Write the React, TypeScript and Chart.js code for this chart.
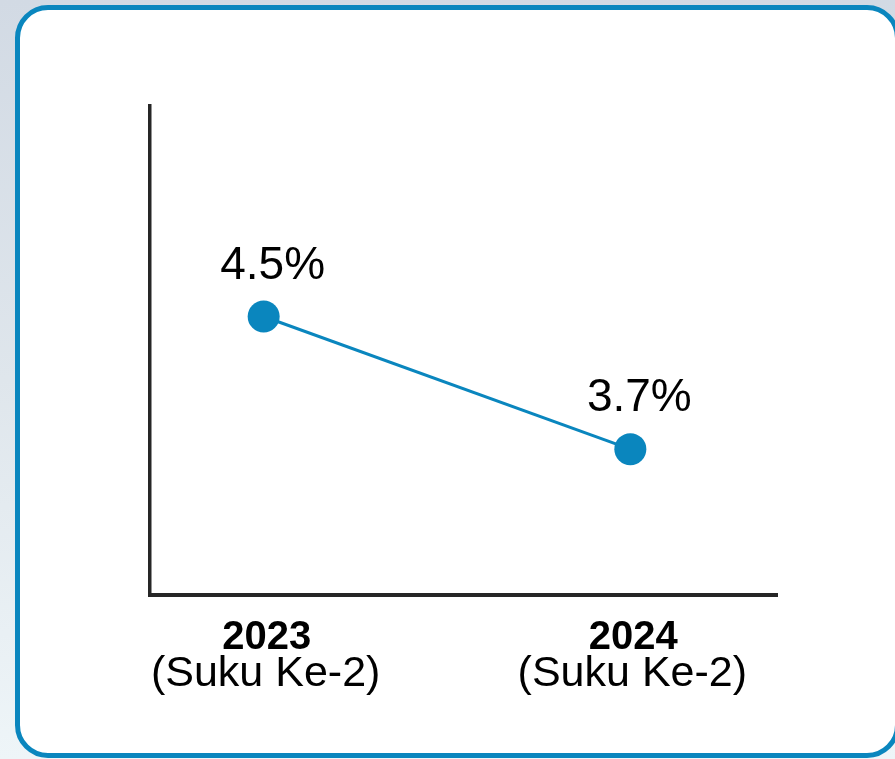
import React, { useEffect, useRef } from "react";
import { Chart, registerables } from "chart.js";

Chart.register(...registerables);

const years = [2023, 2024];
const yearLabels = ["2023", "2024"];
const subLabels = ["(Suku Ke-2)", "(Suku Ke-2)"];
const values = [4.5, 3.7];
const valueLabels = ["4.5%", "3.7%"];

const BLUE = "#0a86be";

const labelsPlugin = {
  id: "customLabels",
  afterDraw(chart: any) {
    const ctx = chart.ctx;
    const meta = chart.getDatasetMeta(0);
    const xScale = chart.scales.x;
    const area = chart.chartArea;
    ctx.save();
    ctx.fillStyle = "#000";
    ctx.textAlign = "center";
    ctx.textBaseline = "alphabetic";
    // value labels
    ctx.font = '46px "Liberation Sans", Arial, sans-serif';
    meta.data.forEach((pt: any, i: number) => {
      ctx.fillText(valueLabels[i], pt.x + 9, pt.y - 38);
    });
    // x labels
    years.forEach((yr, i) => {
      const x = xScale.getPixelForValue(yr);
      ctx.font = 'bold 40px "Liberation Sans", Arial, sans-serif';
      ctx.fillText(yearLabels[i], x + 3, area.bottom + 54);
      ctx.font = '43px "Liberation Sans", Arial, sans-serif';
      ctx.fillText(subLabels[i], x + 2, area.bottom + 91);
    });
    ctx.restore();
  },
};

export default function App() {
  const canvasRef = useRef<HTMLCanvasElement | null>(null);

  useEffect(() => {
    if (!canvasRef.current) return;
    const chart = new Chart(canvasRef.current, {
      type: "line",
      data: {
        datasets: [
          {
            data: years.map((y, i) => ({ x: y, y: values[i] })),
            borderColor: BLUE,
            borderWidth: 3,
            backgroundColor: BLUE,
            pointBackgroundColor: BLUE,
            pointBorderColor: BLUE,
            pointBorderWidth: 0,
            pointRadius: 16,
            pointHoverRadius: 16,
            fill: false,
            tension: 0,
          },
        ],
      },
      options: {
        animation: false,
        responsive: false,
        maintainAspectRatio: false,
        events: [],
        layout: { padding: { left: 150, right: 118, top: 106, bottom: 164 } },
        plugins: {
          legend: { display: false },
          tooltip: { enabled: false },
          title: { display: false },
        },
        scales: {
          x: {
            type: "linear",
            min: 2022.69,
            max: 2024.4,
            grid: { display: false, drawTicks: false },
            border: { display: true, color: "#262626", width: 4 },
            ticks: { display: false },
          },
          y: {
            min: 2.82,
            max: 5.77,
            grid: { display: false, drawTicks: false },
            border: { display: true, color: "#262626", width: 3.5 },
            ticks: { display: false },
          },
        },
      },
      plugins: [labelsPlugin],
    });
    return () => chart.destroy();
  }, []);

  return (
    <div
      style={{
        position: "absolute",
        left: 0,
        top: 0,
        width: 895,
        height: 759,
        overflow: "hidden",
        background: "linear-gradient(to bottom, #d2dae4 0%, #dfe6ec 50%, #eef5f8 100%)",
      }}
    >
      <div
        style={{
          position: "absolute",
          left: 15,
          top: 5,
          width: 885,
          height: 753,
          boxSizing: "border-box",
          border: `5px solid ${BLUE}`,
          borderRadius: 33,
          background: "#fff",
        }}
      />
      <canvas
        ref={canvasRef}
        width={895}
        height={759}
        style={{ position: "absolute", left: 0, top: 0, width: 895, height: 759 }}
      />
    </div>
  );
}
